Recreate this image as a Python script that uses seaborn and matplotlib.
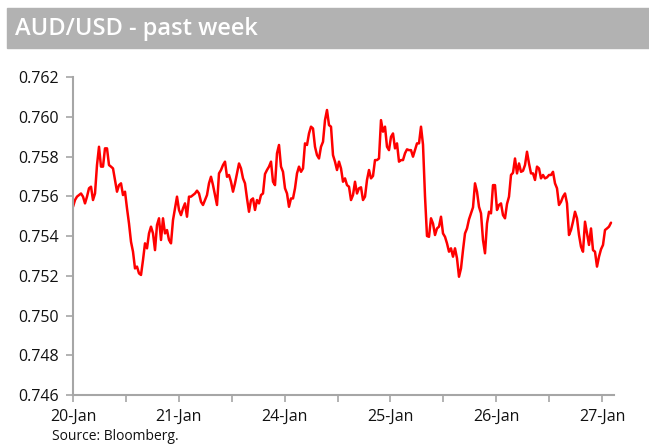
import matplotlib
matplotlib.use("Agg")
import matplotlib.pyplot as plt
from matplotlib.patches import Rectangle
from matplotlib.ticker import FormatStrFormatter, MultipleLocator
import numpy as np
import seaborn as sns

# AUD/USD intraday quotes (one sample every ~27 min of trading)
day_labels = ["20-Jan", "21-Jan", "24-Jan", "25-Jan", "26-Jan", "27-Jan"]
sample_step = 2 / 105.8  # fraction of a trading day between samples

jan20 = [
    0.75547, 0.75581, 0.75598, 0.75606, 0.75614, 0.75598, 0.75564, 0.75598, 0.75640, 0.75648,
    0.75581, 0.75614, 0.75757, 0.75849, 0.75749, 0.75749, 0.75841, 0.75841, 0.75757, 0.75749,
    0.75740, 0.75682, 0.75623, 0.75656, 0.75665, 0.75606, 0.75623, 0.75539, 0.75463, 0.75371,
    0.75321, 0.75237, 0.75246, 0.75212, 0.75204, 0.75279, 0.75363, 0.75338, 0.75413,
]
jan21 = [
    0.75447, 0.75413, 0.75329, 0.75455, 0.75489, 0.75380, 0.75489, 0.75413, 0.75430, 0.75380,
    0.75363, 0.75480, 0.75539, 0.75598, 0.75531, 0.75505, 0.75539, 0.75564, 0.75497, 0.75598,
    0.75598, 0.75606, 0.75614, 0.75628, 0.75614, 0.75572, 0.75556, 0.75581, 0.75606, 0.75665,
    0.75698, 0.75656, 0.75606, 0.75556, 0.75715, 0.75732, 0.75757, 0.75774, 0.75698,
]
jan21_24 = [
    0.75707, 0.75673, 0.75623, 0.75665, 0.75715, 0.75765, 0.75740, 0.75690, 0.75665, 0.75589,
    0.75522, 0.75581, 0.75589, 0.75531, 0.75581, 0.75564, 0.75606, 0.75614, 0.75712, 0.75732,
    0.75749, 0.75774, 0.75673, 0.75656, 0.75816, 0.75858, 0.75749, 0.75723, 0.75640, 0.75614,
    0.75547, 0.75589, 0.75589, 0.75640, 0.75715, 0.75749, 0.75723, 0.75740, 0.75866,
]
jan24 = [
    0.75858, 0.75916, 0.75950, 0.75941, 0.75849, 0.75807, 0.75790, 0.75849, 0.75874, 0.75983,
    0.76034, 0.75958, 0.75950, 0.75807, 0.75774, 0.75732, 0.75774, 0.75740, 0.75673, 0.75690,
    0.75656, 0.75648, 0.75581, 0.75606, 0.75673, 0.75614, 0.75640, 0.75645, 0.75581, 0.75598,
    0.75682, 0.75732, 0.75690, 0.75702, 0.75782, 0.75782, 0.75790, 0.75983, 0.75925,
]
jan25 = [
    0.75950, 0.75849, 0.75832, 0.75899, 0.75916, 0.75841, 0.75866, 0.75774, 0.75782, 0.75782,
    0.75816, 0.75836, 0.75832, 0.75832, 0.75799, 0.75832, 0.75866, 0.75866, 0.75950, 0.75860,
    0.75600, 0.75400, 0.75396, 0.75489, 0.75463, 0.75405, 0.75438, 0.75447, 0.75497, 0.75413,
    0.75396, 0.75363, 0.75321, 0.75338, 0.75296, 0.75338, 0.75288, 0.75195, 0.75237,
]
jan26 = [
    0.75329, 0.75413, 0.75438, 0.75484, 0.75514, 0.75544, 0.75665, 0.75623, 0.75547, 0.75514,
    0.75380, 0.75313, 0.75463, 0.75522, 0.75514, 0.75656, 0.75656, 0.75531, 0.75556, 0.75564,
    0.75505, 0.75489, 0.75561, 0.75598, 0.75707, 0.75718, 0.75790, 0.75715, 0.75765, 0.75723,
    0.75728, 0.75757, 0.75824, 0.75765, 0.75715, 0.75715, 0.75682, 0.75749, 0.75740,
]
jan26_27 = [
    0.75690, 0.75707, 0.75690, 0.75695, 0.75707, 0.75707, 0.75723, 0.75665, 0.75640, 0.75556,
    0.75572, 0.75598, 0.75614, 0.75564, 0.75405, 0.75430, 0.75472, 0.75522, 0.75489, 0.75405,
    0.75346, 0.75321, 0.75472, 0.75413, 0.75355, 0.75438, 0.75329, 0.75321, 0.75246, 0.75296,
    0.75333, 0.75355, 0.75430, 0.75438, 0.75447, 0.75467,
]

prices = np.array(jan20 + jan21 + jan21_24 + jan24 + jan25 + jan26 + jan26_27)
days = np.arange(len(prices)) * sample_step

sns.set_style("white")
plt.rcParams["font.family"] = ["Open Sans", "DejaVu Sans"]

fig = plt.figure(figsize=(6.49, 4.46), dpi=100)
ax = fig.add_axes([73 / 649, 1 - 395 / 446, 541 / 649, 318 / 446])

sns.lineplot(x=days, y=prices, ax=ax, color="#ff0000", linewidth=1.8)

ax.set_xlim(0, 541 / 105.8)
ax.set_ylim(0.746, 0.762)
ax.yaxis.set_major_locator(MultipleLocator(0.002))
ax.yaxis.set_major_formatter(FormatStrFormatter("%.3f"))
ax.set_xticks(range(len(day_labels)))
ax.set_xticklabels(day_labels)
ax.xaxis.set_minor_locator(MultipleLocator(0.5))

spine_col = "#a6a6a6"
for side in ["top", "right"]:
    ax.spines[side].set_visible(False)
for side in ["left", "bottom"]:
    ax.spines[side].set_color(spine_col)
    ax.spines[side].set_linewidth(1.5)
ax.tick_params(axis="both", which="both", direction="out", length=5, width=1.2,
               color=spine_col, labelsize=11.5, labelcolor="#111111", pad=5)
ax.tick_params(axis="y", left=True)
ax.tick_params(axis="x", which="both", bottom=True)
ax.set_xlabel("")
ax.set_ylabel("")

# grey title band
fig.patches.append(Rectangle((7 / 649, 1 - 48 / 446), 1, 40 / 446,
                             transform=fig.transFigure, color="#b2b2b2", zorder=0))
fig.text(15 / 649, 1 - 29 / 446, "AUD/USD - past week", color="white",
         fontsize=17, fontweight="semibold", va="center", ha="left")
fig.text(52 / 649, 1 - 437 / 446, "Source: Bloomberg.", color="#111111",
         fontsize=10, va="center", ha="left")

fig.savefig("out.png", dpi=100)
